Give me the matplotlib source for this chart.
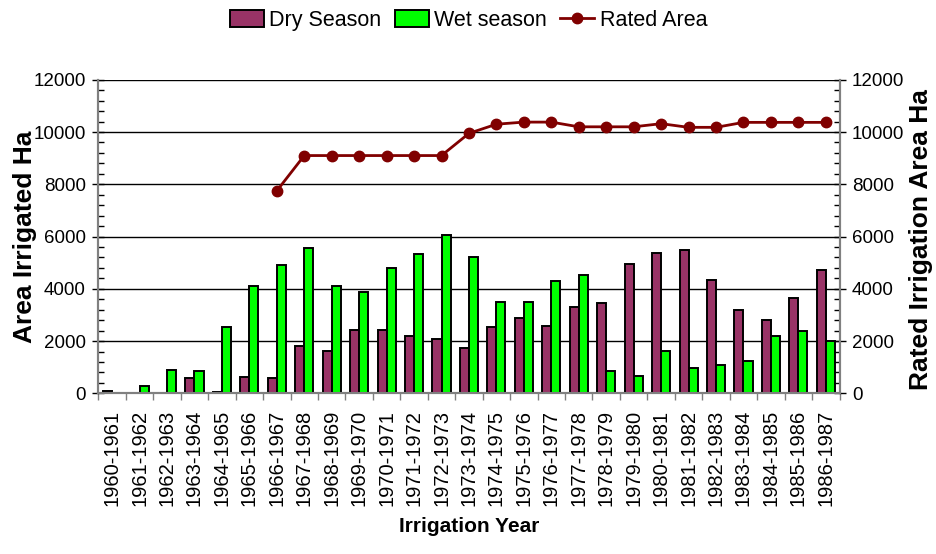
import numpy as np
import matplotlib
matplotlib.use("Agg")
import matplotlib.pyplot as plt
from matplotlib.ticker import MultipleLocator, FixedLocator

# irrigation seasons, one entry per year
years = ["1960-1961", "1961-1962", "1962-1963", "1963-1964", "1964-1965",
         "1965-1966", "1966-1967", "1967-1968", "1968-1969", "1969-1970",
         "1970-1971", "1971-1972", "1972-1973", "1973-1974", "1974-1975",
         "1975-1976", "1976-1977", "1977-1978", "1978-1979", "1979-1980",
         "1980-1981", "1981-1982", "1982-1983", "1983-1984", "1984-1985",
         "1985-1986", "1986-1987"]

# area irrigated (ha)
dry_season = [80, 0, 0, 570, 60, 640, 570, 1820, 1620, 2430,
              2420, 2180, 2070, 1720, 2520, 2890, 2560, 3300, 3450, 4950,
              5370, 5470, 4330, 3190, 2800, 3630, 4720]
wet_season = [0, 270, 900, 850, 2530, 4110, 4900, 5560, 4110, 3870,
              4800, 5350, 6050, 5200, 3490, 3490, 4290, 4510, 850, 660,
              1610, 970, 1080, 1250, 2190, 2380, 2000]

# rated irrigation area (ha), no rating before 1966
rated_area = [np.nan, np.nan, np.nan, np.nan, np.nan, np.nan, 7750,
              9100, 9100, 9100, 9100, 9100, 9100, 9950, 10300, 10380,
              10380, 10200, 10200, 10200, 10320, 10180, 10180, 10370,
              10370, 10370, 10370]

plt.rcParams["font.family"] = ["Liberation Sans", "DejaVu Sans"]

DRY_COLOR = "#993366"
WET_COLOR = "#00ff00"
LINE_COLOR = "#800000"
SPINE_COLOR = "#808080"


def style_y(a):
    a.set_ylim(0, 12000)
    a.yaxis.set_major_locator(MultipleLocator(2000))
    a.yaxis.set_minor_locator(MultipleLocator(400))
    a.tick_params(axis="y", which="major", length=8, width=1.0,
                  direction="inout", labelsize=13.5, pad=5)
    a.tick_params(axis="y", which="minor", length=4, width=1.0,
                  direction="in")
    a.spines["top"].set_visible(False)
    for s in ["left", "right", "bottom"]:
        a.spines[s].set_color(SPINE_COLOR)
        a.spines[s].set_linewidth(1.5)


fig = plt.figure(figsize=(9.37, 5.54), dpi=100)
ax = fig.add_axes([0.105, 0.29, 0.791, 0.566])

x = np.arange(len(years))
w = 0.33
dry = np.array(dry_season, dtype=float)
wet = np.array(wet_season, dtype=float)
md = dry > 0
mw = wet > 0
ax.bar(x[md] - w / 2, dry[md], width=w, color=DRY_COLOR, edgecolor="black",
       linewidth=1.4, zorder=3, label="Dry Season")
ax.bar(x[mw] + w / 2, wet[mw], width=w, color=WET_COLOR, edgecolor="black",
       linewidth=1.4, zorder=3, label="Wet season")

ax.set_xlim(-0.5, len(years) - 0.5)
style_y(ax)
ax.grid(axis="y", which="major", color="black", linewidth=1.0, zorder=0)
ax.set_axisbelow(True)

ax.set_xticks(x)
ax.set_xticklabels(years, rotation=90, fontsize=14.5)
ax.xaxis.set_minor_locator(FixedLocator(np.arange(-0.5, len(years), 1.0)))
ax.tick_params(axis="x", which="major", length=0, pad=12)
ax.tick_params(axis="x", which="minor", length=5, width=1.0, direction="out",
               color=SPINE_COLOR)

ax.set_ylabel("Area Irrigated Ha", fontweight="bold", fontsize=19)
ax.yaxis.set_label_coords(-0.083, 0.5)
ax.set_xlabel("Irrigation Year", fontweight="bold", fontsize=15, labelpad=8)

# rated area on the secondary axis
ax2 = ax.twinx()
ax2.plot(x, rated_area, color=LINE_COLOR, linewidth=2.0, marker="o",
         markersize=7.5, zorder=4, label="Rated Area")
style_y(ax2)
ax2.set_ylabel("Rated Irrigation Area Ha", fontweight="bold", fontsize=19,
               rotation=90)
ax2.yaxis.set_label_coords(1.094, 0.49)

h1, l1 = ax.get_legend_handles_labels()
h2, l2 = ax2.get_legend_handles_labels()
fig.legend(h1 + h2, l1 + l2, loc="center", bbox_to_anchor=(0.5, 0.963),
           ncol=3, frameon=False, fontsize=15.5, handlelength=1.6,
           handleheight=0.8, handletextpad=0.25, columnspacing=0.6)

fig.savefig("out.png", dpi=100)
